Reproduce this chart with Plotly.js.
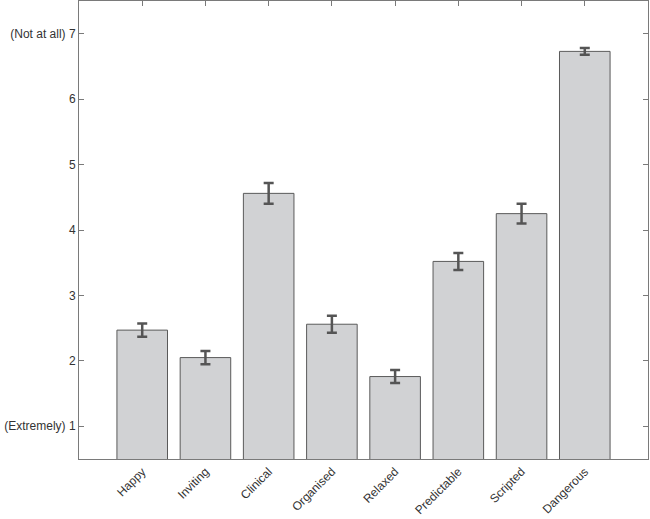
<!DOCTYPE html>
<html>
<head>
<meta charset="utf-8">
<script src="https://cdn.plot.ly/plotly-3.0.1.min.js"></script>
<style>html,body{margin:0;padding:0;background:#fff;}#chart{width:650px;height:519px;}</style>
</head>
<body>
<div id="chart"></div>
<script>
const categories = ["Happy", "Inviting", "Clinical", "Organised", "Relaxed", "Predictable", "Scripted", "Dangerous"];
const means = [2.47, 2.05, 4.56, 2.56, 1.76, 3.52, 4.25, 6.73];
const errors = [0.10, 0.10, 0.16, 0.13, 0.10, 0.13, 0.15, 0.05];
const yTickVals = [1, 2, 3, 4, 5, 6, 7];
const yTickText = ["(Extremely) 1", "2", "3", "4", "5", "6", "(Not at all) 7"];

const trace = {
  type: "bar",
  x: categories.map((c, i) => i),
  y: means,
  width: 0.8,
  marker: { color: "#d1d2d4", line: { color: "#5a5a5a", width: 1 } },
  error_y: { type: "data", array: errors, visible: true, color: "#555555", thickness: 2.5, width: 5 },
  hoverinfo: "skip"
};

const layout = {
  width: 650, height: 519,
  margin: { l: 79, r: 2, t: 1, b: 60 },
  paper_bgcolor: "#ffffff", plot_bgcolor: "#ffffff",
  showlegend: false,
  font: { family: "Liberation Sans, Arial, sans-serif", size: 12, color: "#333333" },
  xaxis: {
    range: [-1, 8],
    tickvals: categories.map((c, i) => i),
    ticktext: categories,
    tickangle: -45,
    ticks: "inside", ticklen: 5, tickcolor: "#7a7a7a",
    showline: true, linecolor: "#7a7a7a", linewidth: 1, mirror: "ticks",
    showgrid: false, zeroline: false,
    layer: "below traces",
    ticklabelstandoff: 0,
    tickfont: { size: 12, color: "#333333" }
  },
  yaxis: {
    range: [0.5, 7.5],
    tickvals: yTickVals,
    ticktext: yTickText,
    ticks: "inside", ticklen: 5, tickcolor: "#7a7a7a",
    showline: true, linecolor: "#7a7a7a", linewidth: 1, mirror: "ticks",
    showgrid: false, zeroline: false,
    tickfont: { size: 12, color: "#333333" }
  }
};

Plotly.newPlot("chart", [trace], layout, { displayModeBar: false, staticPlot: true });
</script>
</body>
</html>
